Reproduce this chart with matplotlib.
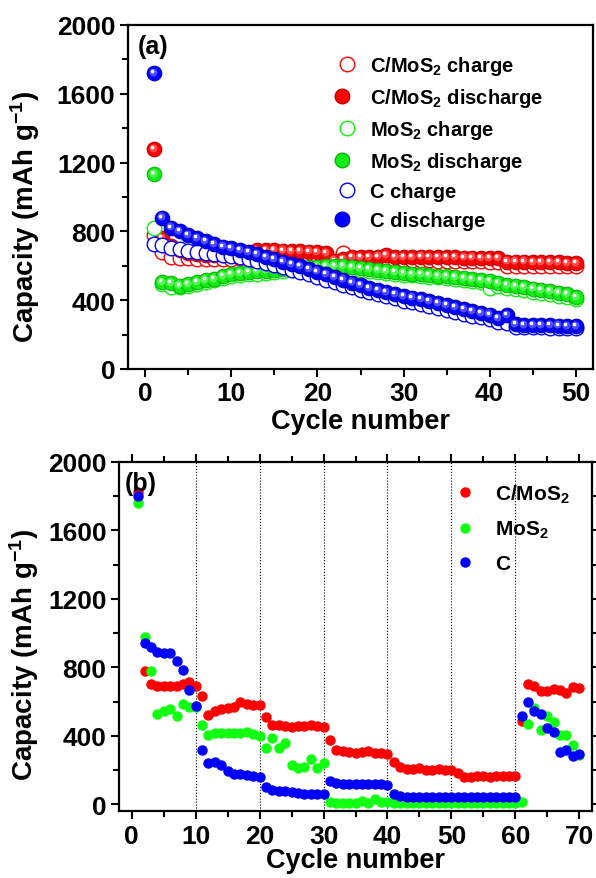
import numpy as np
import matplotlib
matplotlib.use('Agg')
import matplotlib.pyplot as plt
import matplotlib.transforms as mtransforms
from matplotlib.lines import Line2D
from matplotlib.legend_handler import HandlerTuple
from matplotlib.ticker import MultipleLocator

plt.rcParams['font.family'] = ['Liberation Sans', 'DejaVu Sans']
plt.rcParams['font.weight'] = 'bold'
plt.rcParams['mathtext.fontset'] = 'custom'
plt.rcParams['mathtext.rm'] = 'Liberation Sans:bold'
plt.rcParams['mathtext.it'] = 'Liberation Sans:bold'
plt.rcParams['mathtext.bf'] = 'Liberation Sans:bold'
plt.rcParams['mathtext.default'] = 'rm'

# ---- panel (a): cycling at constant current ----
cycles_a = np.arange(1, 51)
cmos_dis = [1278, 760, 715, 690, 675, 668, 664, 662, 660, 660,
            664, 674, 690, 692, 690, 688, 686, 684, 682, 680,
            676, 630, 640, 650, 652, 652, 654, 660, 652, 650,
            652, 654, 652, 650, 650, 650, 648, 648, 646, 645,
            643, 625, 624, 624, 623, 622, 621, 620, 618, 615]
cmos_ch = [780, 680, 650, 645, 643, 642, 640, 640, 640, 642,
           646, 656, 668, 672, 670, 668, 666, 664, 662, 660,
           655, 625, 672, 636, 634, 634, 634, 636, 633, 632,
           632, 633, 632, 630, 630, 630, 628, 628, 626, 625,
           620, 600, 600, 600, 598, 598, 597, 596, 596, 596]
mos_dis = [1135, 505, 500, 485, 495, 505, 515, 525, 540, 550,
           558, 562, 567, 572, 576, 580, 584, 588, 592, 595,
           598, 600, 598, 594, 588, 582, 576, 570, 564, 558,
           554, 550, 546, 542, 538, 534, 528, 522, 516, 510,
           500, 490, 482, 475, 468, 460, 452, 444, 434, 420]
mos_ch = [820, 494, 478, 478, 485, 495, 505, 515, 528, 538,
          545, 550, 555, 560, 565, 570, 574, 578, 582, 585,
          588, 590, 588, 584, 578, 572, 566, 560, 554, 548,
          544, 540, 536, 532, 528, 524, 518, 512, 506, 470,
          480, 472, 465, 458, 450, 442, 434, 426, 416, 405]
c_dis = [1720, 880, 822, 802, 780, 760, 742, 725, 712, 702,
         692, 680, 666, 652, 638, 624, 610, 596, 582, 566,
         550, 536, 520, 502, 486, 472, 460, 448, 436, 425,
         415, 405, 394, 382, 370, 358, 346, 336, 326, 316,
         296, 312, 262, 257, 255, 254, 253, 252, 251, 250]
c_ch = [728, 722, 702, 695, 686, 680, 674, 668, 662, 656,
        650, 640, 630, 618, 605, 592, 578, 564, 550, 535,
        520, 505, 490, 474, 460, 446, 434, 422, 410, 398,
        388, 378, 366, 354, 342, 330, 320, 310, 300, 290,
        276, 270, 246, 244, 243, 242, 241, 240, 240, 239]

# ---- panel (b): rate capability ----
cycles_b = np.arange(1, 71)
cmos_rate = [1824, 780, 702, 692, 689, 689, 692, 702, 716, 692,
             630, 523, 546, 556, 560, 566, 595, 585, 580, 581,
             511, 464, 462, 455, 449, 458, 455, 464, 458, 449,
             375, 316, 310, 302, 298, 302, 310, 298, 298, 293,
             244, 215, 205, 205, 211, 201, 199, 205, 197, 201,
             185, 160, 160, 166, 166, 160, 162, 166, 166, 166,
             488, 702, 692, 663, 663, 673, 669, 648, 683, 677]
mos_rate = [1762, 979, 780, 527, 542, 556, 513, 585, 566, 566,
            462, 406, 416, 414, 414, 414, 414, 419, 410, 396,
            326, 384, 326, 357, 228, 209, 220, 263, 211, 238,
            15, 4, 6, 8, 6, 20, 8, 29, 15, 10,
            6, 6, 5, 5, 6, 5, 5, 5, 6, 5,
            5, 5, 5, 5, 5, 5, 5, 5, 5, 6,
            14, 468, 560, 433, 517, 482, 406, 406, 345, 290]
c_rate = [1799, 942, 917, 888, 882, 882, 835, 784, 667, 575,
          316, 238, 244, 230, 195, 176, 176, 172, 162, 156,
          103, 84, 78, 74, 72, 68, 59, 62, 62, 59,
          137, 121, 117, 117, 117, 117, 117, 117, 117, 113,
          62, 49, 42, 40, 40, 40, 39, 39, 39, 39,
          39, 39, 39, 39, 39, 39, 39, 39, 39, 39,
          517, 595, 546, 527, 443, 419, 302, 316, 279, 293]


def lighten(color, f):
    c = np.array(matplotlib.colors.to_rgb(color))
    return tuple(c + (1 - c) * f)


def darken(color, f):
    c = np.array(matplotlib.colors.to_rgb(color))
    return tuple(c * f)


def sphere(ax, x, y, color, ms=10.5):
    # shaded ball: base, lighter core, white highlight
    ax.plot(x, y, 'o', ls='none', ms=ms, mfc=color,
            mec=darken(color, 0.75), mew=0.8)
    tr1 = mtransforms.offset_copy(ax.transData, fig=ax.figure, x=-1.2, y=1.2, units='dots')
    ax.plot(x, y, 'o', ls='none', ms=ms * 0.55, mfc=lighten(color, 0.3),
            mec='none', transform=tr1)
    tr2 = mtransforms.offset_copy(ax.transData, fig=ax.figure, x=-2.0, y=2.0, units='dots')
    ax.plot(x, y, 'o', ls='none', ms=ms * 0.25, mfc='white',
            mec='none', transform=tr2)


def style_axes(ax):
    for s in ax.spines.values():
        s.set_linewidth(1.6)
    ax.tick_params(which='major', direction='out', length=6, width=1.5, labelsize=19, pad=3)
    ax.tick_params(which='minor', direction='out', length=4, width=1.5)
    for lab in ax.get_xticklabels() + ax.get_yticklabels():
        lab.set_fontweight('bold')


fig = plt.figure(figsize=(5.96, 8.79), dpi=100)

# panel (a)
ax1 = fig.add_axes([128 / 596, 1 - 370 / 879, 465 / 596, 344 / 879])
red, green, blue = '#ff0000', '#11ee11', '#0000ff'
h = []
for ch, dis, col in [(cmos_ch, cmos_dis, red), (mos_ch, mos_dis, green), (c_ch, c_dis, blue)]:
    oc, = ax1.plot(cycles_a, ch, 'o', ls='none', ms=10.5, mfc='white', mec=col, mew=1.0)
    sphere(ax1, cycles_a, dis, col)
    h.append(oc)
    h.append((Line2D([], [], marker='o', ls='none', ms=10.5, mfc=col, mec=darken(col, 0.75)),
              Line2D([], [], marker='o', ls='none', ms=3, mfc='white', mec='none')))
labels_a = [r'C/MoS$_2$ charge', r'C/MoS$_2$ discharge', r'MoS$_2$ charge',
            r'MoS$_2$ discharge', 'C charge', 'C discharge']
ax1.legend(h, labels_a, loc='upper left', bbox_to_anchor=(0.449, 0.915), frameon=False,
           borderpad=0, borderaxespad=0, handlelength=1.0, handletextpad=0.65,
           labelspacing=0.45, prop={'size': 14.5, 'weight': 'bold'},
           handler_map={tuple: HandlerTuple(ndivide=None, pad=0)})
ax1.set_xlim(-2, 52)
ax1.set_ylim(0, 2000)
ax1.xaxis.set_major_locator(MultipleLocator(10))
ax1.xaxis.set_minor_locator(MultipleLocator(5))
ax1.yaxis.set_major_locator(MultipleLocator(400))
ax1.yaxis.set_minor_locator(MultipleLocator(200))
style_axes(ax1)
ax1.set_xlabel('Cycle number', fontsize=19.5, fontweight='bold', labelpad=2)
ax1.set_ylabel(r'Capacity (mAh g$^{-1}$)', fontsize=20, fontweight='bold')
ax1.yaxis.set_label_coords(-0.185, 0.445)
ax1.text(0.02, 0.975, '(a)', transform=ax1.transAxes, fontsize=18, fontweight='bold', va='top')

# panel (b)
ax2 = fig.add_axes([119 / 596, 1 - 812 / 879, 473 / 596, 349 / 879])
for xv in [10, 20, 30, 40, 50, 60]:
    ax2.axvline(xv, color='black', ls=':', lw=0.8, zorder=0)
ax2.plot(cycles_b, cmos_rate, 'o', ls='none', ms=6.5, color=red, label=r'C/MoS$_2$')
ax2.plot(cycles_b, mos_rate, 'o', ls='none', ms=6.5, color='#11ff11', label=r'MoS$_2$')
ax2.plot(cycles_b, c_rate, 'o', ls='none', ms=6.5, color=blue, label='C')
ax2.legend(loc='upper left', bbox_to_anchor=(0.71, 0.941), frameon=False,
           borderpad=0, borderaxespad=0, handlelength=1.0, handletextpad=0.95,
           labelspacing=0.67, prop={'size': 15, 'weight': 'bold'})
ax2.set_xlim(-2, 72)
ax2.set_ylim(-40, 2000)
ax2.xaxis.set_major_locator(MultipleLocator(10))
ax2.xaxis.set_minor_locator(MultipleLocator(5))
ax2.yaxis.set_major_locator(MultipleLocator(400))
ax2.yaxis.set_minor_locator(MultipleLocator(200))
style_axes(ax2)
ax2.tick_params(which='both', top=True, right=True)
ax2.set_xlabel('Cycle number', fontsize=19.5, fontweight='bold', labelpad=0)
ax2.set_ylabel(r'Capacity (mAh g$^{-1}$)', fontsize=20, fontweight='bold')
ax2.yaxis.set_label_coords(-0.165, 0.45)
ax2.text(0.013, 0.975, '(b)', transform=ax2.transAxes, fontsize=18, fontweight='bold', va='top')

fig.savefig('out.png', dpi=100)
